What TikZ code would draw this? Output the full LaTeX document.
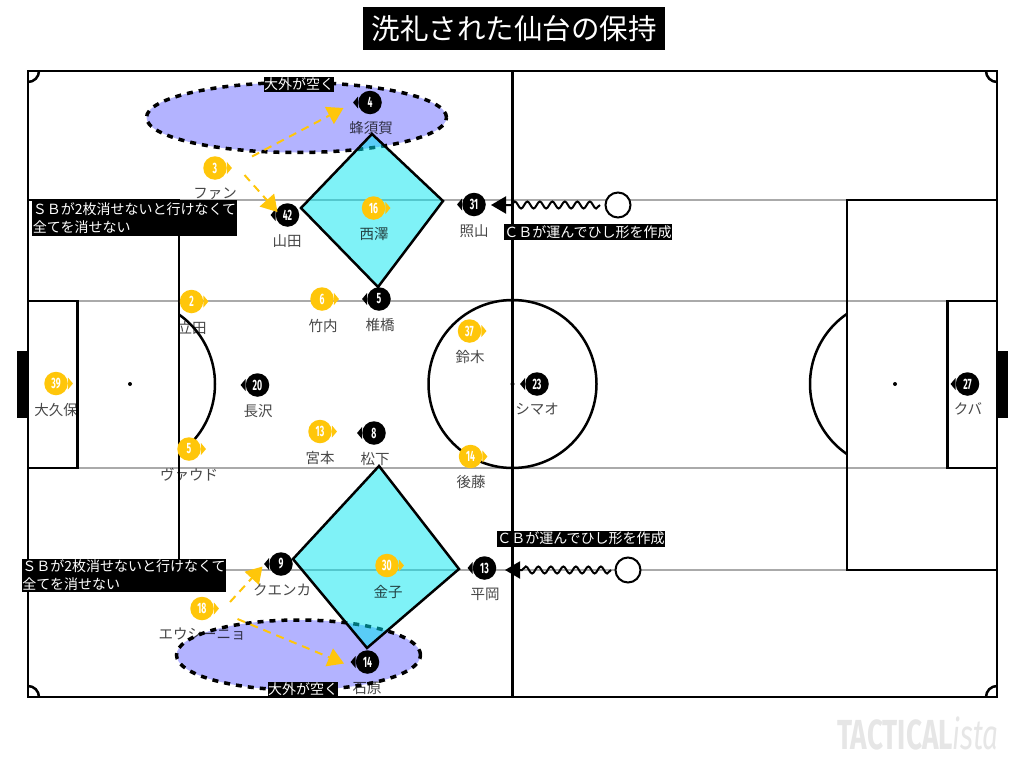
\documentclass[tikz,border=0pt]{standalone}
\usepackage{fontspec}
\setmainfont{Noto Sans CJK JP}
\newfontfamily\numfont[FakeStretch=0.58]{Fira Sans}
\newfontfamily\markfont[FakeStretch=0.665]{Fira Sans}
\usetikzlibrary{arrows.meta,shapes.geometric,decorations.pathmorphing}
\definecolor{homeyellow}{RGB}{255,198,10}
\definecolor{openblue}{RGB}{179,179,255}
\definecolor{shapecyan}{RGB}{0,229,240}
\definecolor{lightline}{RGB}{170,170,170}
\definecolor{markgrey}{RGB}{230,230,230}
\tikzset{
    pitchline/.style={line width=2.5pt, draw=black},
    guideline/.style={line width=2.5pt, draw=lightline},
    openarea/.style={fill=openblue, draw=black, line width=3.5pt, dash pattern=on 6pt off 6pt},
    shapearea/.style={fill=shapecyan, fill opacity=0.5, draw=black, draw opacity=1, line width=2.5pt, line join=miter},
    hometip/.style={isosceles triangle, isosceles triangle stretches, fill=homeyellow, minimum width=12pt, minimum height=5pt, inner sep=0pt, outer sep=0pt},
    awaytip/.style={isosceles triangle, isosceles triangle stretches, shape border rotate=180, fill=black, minimum width=12pt, minimum height=5pt, inner sep=0pt, outer sep=0pt},
    homeplayer/.style={circle, fill=homeyellow, text=white, minimum size=23.5pt, inner sep=0pt, font=\numfont\bfseries\fontsize{15}{15}\selectfont, label={[hometip]right:}},
    awayplayer/.style={circle, fill=black, text=white, minimum size=23.5pt, inner sep=0pt, font=\numfont\bfseries\fontsize{15}{15}\selectfont, label={[awaytip]left:}},
    playername/.style={text=black, text opacity=0.72, inner sep=0pt, font=\fontsize{14.5}{16}\selectfont},
    notebox/.style={fill=black, text=white, inner sep=0pt, font=\fontsize{14}{18}\selectfont, align=left},
    runarrow/.style={draw=homeyellow, line width=2pt, dash pattern=on 8pt off 6pt, -{Triangle[length=16pt,width=19pt,fill=homeyellow,sep=0pt]}},
    dribble/.style={draw=black, line width=2pt, -{Triangle[length=15pt,width=17pt,fill=black]}, decorate, decoration={snake, amplitude=3.5pt, segment length=12.5pt, post=lineto, post length=16pt}},
    ballmark/.style={circle, draw=black, line width=2pt, fill=white, minimum size=25pt, inner sep=0pt}
}
\begin{document}
\begin{tikzpicture}[x=1pt, y=-1pt]
    \useasboundingbox (0,0) rectangle (1024,768);

    % Guide lines
    \draw[guideline] (179,200) -- (847,200);
    \draw[guideline] (179,570) -- (847,570);
    \draw[guideline] (77,301) -- (948,301);
    \draw[guideline] (77,468) -- (948,468);

    % Goals
    \fill[black] (17,351) rectangle (28,418);
    \fill[black] (997,351) rectangle (1008,418);

    % Corners
    \begin{scope}
        \clip (28,71) rectangle (997,697);
        \draw[pitchline] (28,71) circle [radius=11pt];
        \draw[pitchline] (997,71) circle [radius=11pt];
        \draw[pitchline] (28,697) circle [radius=11pt];
        \draw[pitchline] (997,697) circle [radius=11pt];
    \end{scope}

    % Penalty arcs
    \begin{scope}
        \clip (179,200) rectangle (400,570);
        \draw[pitchline] (130,384) circle [radius=85pt];
    \end{scope}
    \begin{scope}
        \clip (700,200) rectangle (847,570);
        \draw[pitchline] (895,384) circle [radius=85pt];
    \end{scope}

    % Pitch
    \draw[pitchline] (28,71) rectangle (997,697);
    \draw[pitchline] (512.5,71) -- (512.5,697);
    \draw[pitchline] (512.5,384) circle [radius=84pt];
    \draw[pitchline] (28,200) -- (179,200) -- (179,570) -- (28,570);
    \draw[pitchline] (997,200) -- (847,200) -- (847,570) -- (997,570);
    \draw[pitchline] (28,301) -- (77.5,301) -- (77.5,468) -- (28,468);
    \draw[pitchline] (997,301) -- (947.5,301) -- (947.5,468) -- (997,468);
    \fill[black] (130,384) circle [radius=2pt];
    \fill[black] (895,384) circle [radius=2pt];
    \fill[black] (512.5,384) circle [radius=2pt];

    % Open areas
    \draw[openarea] (296.5,117.5) ellipse [x radius=150pt, y radius=35pt];
    \draw[openarea] (298.5,655) ellipse [x radius=122pt, y radius=35pt];

    % Diamonds
    \draw[shapearea] (301,208) -- (372,134) -- (443,201) -- (378,287) -- cycle;
    \draw[shapearea] (293,559) -- (379,466) -- (459,569) -- (367,648) -- cycle;

    % Home players
    \node[homeplayer] (fan) at (215,168) {3};
    \node[playername] (fanname) at (215,194) {ファン};
    \node[homeplayer] (nishizawa) at (373.5,208) {16};
    \node[playername] (nishizawaname) at (374,234) {西澤};
    \node[homeplayer] (tatsuta) at (191.5,301.5) {2};
    \node[playername] (tatsutaname) at (192,328) {立田};
    \node[homeplayer] (takeuchi) at (322,299) {6};
    \node[playername] (takeuchiname) at (323,326) {竹内};
    \node[homeplayer] (suzuki) at (469.5,331) {37};
    \node[playername] (suzukiname) at (470,357) {鈴木};
    \node[homeplayer] (okubo) at (56,383.5) {39};
    \node[playername] (okuboname) at (56,410) {大久保};
    \node[homeplayer] (vaud) at (189,449) {5};
    \node[playername] (vaudname) at (189,475) {ヴァウド};
    \node[homeplayer] (miyamoto) at (320,431.5) {13};
    \node[playername] (miyamotoname) at (320,458) {宮本};
    \node[homeplayer] (goto) at (470.5,456.5) {14};
    \node[playername] (gotoname) at (471,482) {後藤};
    \node[homeplayer] (kaneko) at (387,565.5) {30};
    \node[playername] (kanekoname) at (388,592) {金子};
    \node[homeplayer] (eusinho) at (202,608.5) {18};
    \node[playername] (eusinhoname) at (202,634) {エウシーニョ};

    % Away players
    \node[awayplayer] (hachisuka) at (370,102.5) {4};
    \node[playername] (hachisukaname) at (371,128) {蜂須賀};
    \node[awayplayer] (yamada) at (287.5,215) {42};
    \node[playername] (yamadaname) at (287,241) {山田};
    \node[awayplayer] (teruyama) at (474,204.5) {31};
    \node[playername] (teruyamaname) at (474,231) {照山};
    \node[awayplayer] (shiibashi) at (379,299) {5};
    \node[playername] (shiibashiname) at (380,325) {椎橋};
    \node[awayplayer] (nagasawa) at (257.5,385) {20};
    \node[playername] (nagasawaname) at (258,411) {長沢};
    \node[awayplayer] (matsushita) at (374,433) {8};
    \node[playername] (matsushitaname) at (375,459) {松下};
    \node[awayplayer] (simao) at (537,384) {23};
    \node[playername] (simaoname) at (537,409) {シマオ};
    \node[awayplayer] (kuba) at (967.5,384) {27};
    \node[playername] (kubaname) at (968,409) {クバ};
    \node[awayplayer] (cuenca) at (281,564) {9};
    \node[playername] (cuencaname) at (282,590) {クエンカ};
    \node[awayplayer] (hiraoka) at (484.5,568) {13};
    \node[playername] (hiraokaname) at (485,594) {平岡};
    \node[awayplayer] (ishihara) at (367.5,662) {14};
    \node[playername] (ishiharaname) at (367,688) {石原};

    % Runs
    \coordinate (runastart) at (252,156.5);
    \coordinate (runaend) at (343.5,108);
    \coordinate (runbstart) at (244.5,175);
    \coordinate (runbend) at (277.5,212);
    \coordinate (runcstart) at (230,602);
    \coordinate (runcend) at (262.5,566.5);
    \coordinate (rundstart) at (237.5,619);
    \coordinate (rundend) at (344,663.5);
    \draw[runarrow] (runastart) -- (runaend);
    \draw[runarrow] (runbstart) -- (runbend);
    \draw[runarrow] (runcstart) -- (runcend);
    \draw[runarrow] (rundstart) -- (rundend);

    % Carries
    \node[ballmark] (balltop) at (618,205) {};
    \node[ballmark] (ballbottom) at (628,570) {};
    \coordinate (carrytopstart) at (600,205);
    \coordinate (carrytopend) at (491,205);
    \coordinate (carrybottomstart) at (611,570);
    \coordinate (carrybottomend) at (505,570);
    \draw[dribble] (carrytopstart) -- (carrytopend);
    \draw[dribble] (carrybottomstart) -- (carrybottomend);

    % Notes
    \node[notebox, minimum width=302pt, minimum height=43pt, align=center, font=\fontsize{28.5}{30}\selectfont] (title) at (514,28.5) {洗礼された仙台の保持};
    \node[notebox, minimum width=70pt, minimum height=15pt, align=center] (opentop) at (299,84.5) {大外が空く};
    \node[notebox, minimum width=70pt, minimum height=15pt, align=center] (openbottom) at (303,689.5) {大外が空く};
    \node[notebox, minimum width=205pt, minimum height=36pt] (sbtop) at (134.5,218) {ＳＢが2枚消せないと行けなくて\\全てを消せない};
    \node[notebox, minimum width=204pt, minimum height=33pt] (sbbottom) at (124,575.5) {ＳＢが2枚消せないと行けなくて\\全てを消せない};
    \node[notebox, minimum width=168pt, minimum height=16pt, align=center] (cbtop) at (588,232) {ＣＢが運んでひし形を作成};
    \node[notebox, minimum width=168pt, minimum height=16pt, align=center] (cbbottom) at (581,538.5) {ＣＢが運んでひし形を作成};

    % Watermark
    \node[inner sep=0pt, anchor=east, text=markgrey, font=\markfont\fontsize{42}{42}\selectfont] (mark) at (999,733) {\textbf{TACTICAL}\textit{ista}};
\end{tikzpicture}
\end{document}
